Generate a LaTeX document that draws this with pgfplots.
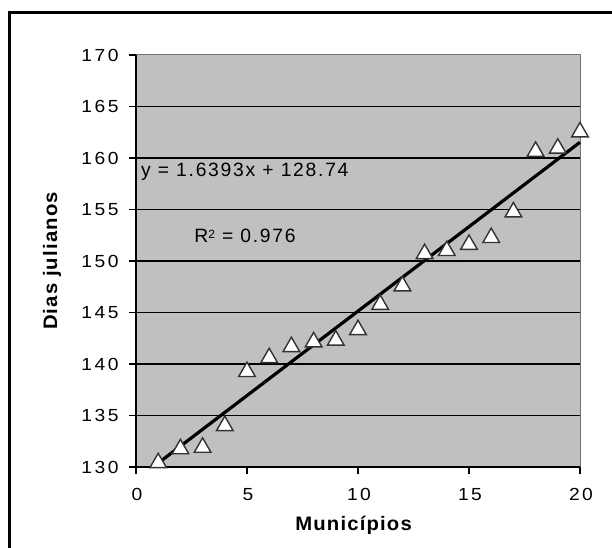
\documentclass[border=0pt]{standalone}
\usepackage{pgfplots}
\pgfplotsset{compat=1.18}
\usepackage{fontspec}
\setmainfont{Liberation Sans}
\newfontfamily\tickfont[LetterSpace=14,FakeStretch=1.1]{Liberation Sans}
\newfontfamily\lblfont[LetterSpace=6,FakeStretch=1.04]{Liberation Sans}
\newfontfamily\eqfont[LetterSpace=9]{Liberation Sans}
\definecolor{plotgray}{RGB}{192,192,192}
\definecolor{markedge}{RGB}{51,51,51}
\newcommand{\tl}[1]{{\tickfont\fontsize{17.5bp}{21bp}\selectfont #1}}
\begin{document}
\begin{tikzpicture}
\useasboundingbox (-136bp,-81bp) rectangle (476bp,467bp);
\draw[line width=3bp] (-126.5bp,-81bp) -- (-126.5bp,454bp) -- (476bp,454bp);
\begin{axis}[
  at={(0,0)}, anchor=south west,
  scale only axis, width=444bp, height=412bp,
  xmin=0, xmax=20, ymin=130, ymax=170,
  xtick={0,5,...,20}, ytick={130,135,...,170},
  xticklabels={\tl{0},\tl{5},\tl{10},\tl{15},\tl{20}},
  yticklabels={\tl{130},\tl{135},\tl{140},\tl{145},\tl{150},\tl{155},\tl{160},\tl{165},\tl{170}},
  axis background/.style={fill=plotgray},
  axis x line*=bottom, axis y line*=left,
  axis line style={line width=1.2bp, -},
  tick align=outside, major tick length=7bp,
  tick style={line width=1.2bp, black},
  extra y ticks={135,140,...,165},
  extra y tick style={grid=major, major tick length=0pt, yticklabels={}},
  major grid style={line width=1.3bp, black},
  yticklabel style={xshift=-7bp},
  xticklabel style={yshift=-11bp, xshift=1bp},
  xlabel={Municípios},
  ylabel={Dias julianos},
  label style={font=\lblfont\bfseries\fontsize{19.5bp}{22bp}\selectfont},
  xlabel style={at={(axis description cs:0.49,-0.1408)}, anchor=center},
  ylabel style={at={(axis description cs:-0.189,0.5)}, anchor=center, rotate=0},
  clip=false,
]
\draw[plotgray!60!black, line width=1bp] (rel axis cs:0,1) -- (rel axis cs:1,1) -- (rel axis cs:1,0);
\addplot[black, line width=3.2bp] coordinates {(1,130.3793) (20,161.526)};
\addplot[only marks, mark=triangle*, mark size=9.6bp,
  mark options={fill=white, draw=markedge, line width=1.4bp}] coordinates {
(1,130.4) (2,131.75) (3,131.9) (4,134.0) (5,139.25) (6,140.6) (7,141.67) (8,142.13)
(9,142.3) (10,143.32) (11,145.77) (12,147.57) (13,150.7) (14,151.0) (15,151.6)
(16,152.26) (17,154.75) (18,160.63) (19,160.94) (20,162.52)};
\node[anchor=west, font=\eqfont\fontsize{19.3bp}{22bp}\selectfont, inner sep=0pt] at (axis cs:0.22,158.64) {y = 1.6393x + 128.74};
\node[anchor=west, font=\eqfont\fontsize{19.3bp}{22bp}\selectfont, inner sep=0pt] at (axis cs:2.62,152.43) {R\raisebox{0.45ex}{\fontsize{12bp}{14bp}\selectfont 2} = 0.976};
\end{axis}
\end{tikzpicture}
\end{document}
